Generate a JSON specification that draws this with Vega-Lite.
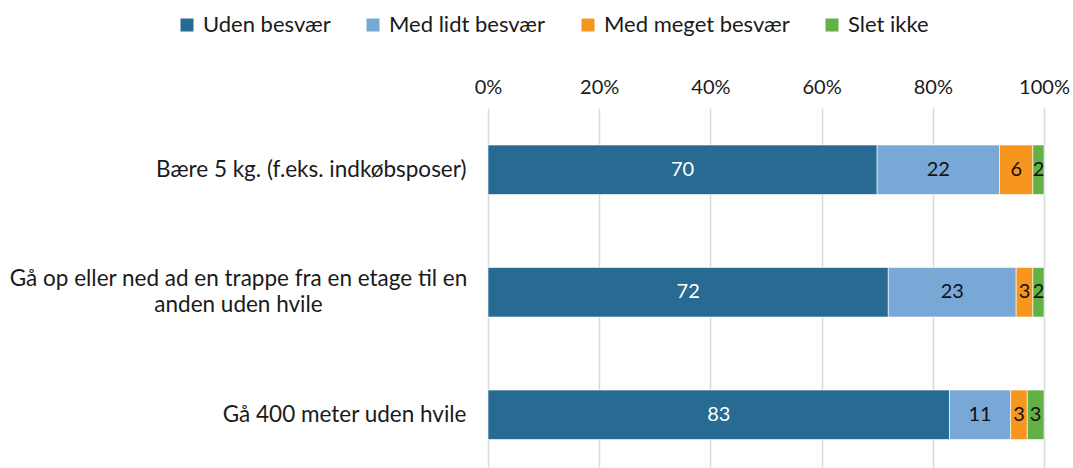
{
  "$schema": "https://vega.github.io/schema/vega-lite/v6.json",
  "width": 556,
  "height": 359,
  "autosize": {"type": "none"},
  "padding": {"left": 488, "top": 108, "right": 29, "bottom": 1},
  "background": "white",
  "config": {
    "font": "Lato",
    "view": {"stroke": null},
    "axis": {"labelFont": "Lato", "labelFontSize": 20, "labelColor": "#1a1a1a"},
    "legend": {"labelFont": "Lato", "labelFontSize": 22, "labelColor": "#1a1a1a"}
  },
  "data": {
    "values": [
      {"item": "Bære 5 kg. (f.eks. indkøbsposer)", "iorder": 1, "answer": "Uden besvær", "aorder": 1, "pct": 70},
      {"item": "Bære 5 kg. (f.eks. indkøbsposer)", "iorder": 1, "answer": "Med lidt besvær", "aorder": 2, "pct": 22},
      {"item": "Bære 5 kg. (f.eks. indkøbsposer)", "iorder": 1, "answer": "Med meget besvær", "aorder": 3, "pct": 6},
      {"item": "Bære 5 kg. (f.eks. indkøbsposer)", "iorder": 1, "answer": "Slet ikke", "aorder": 4, "pct": 2},
      {"item": "Gå op eller ned ad en trappe fra en etage til en anden uden hvile", "iorder": 2, "answer": "Uden besvær", "aorder": 1, "pct": 72},
      {"item": "Gå op eller ned ad en trappe fra en etage til en anden uden hvile", "iorder": 2, "answer": "Med lidt besvær", "aorder": 2, "pct": 23},
      {"item": "Gå op eller ned ad en trappe fra en etage til en anden uden hvile", "iorder": 2, "answer": "Med meget besvær", "aorder": 3, "pct": 3},
      {"item": "Gå op eller ned ad en trappe fra en etage til en anden uden hvile", "iorder": 2, "answer": "Slet ikke", "aorder": 4, "pct": 2},
      {"item": "Gå 400 meter uden hvile", "iorder": 3, "answer": "Uden besvær", "aorder": 1, "pct": 83},
      {"item": "Gå 400 meter uden hvile", "iorder": 3, "answer": "Med lidt besvær", "aorder": 2, "pct": 11},
      {"item": "Gå 400 meter uden hvile", "iorder": 3, "answer": "Med meget besvær", "aorder": 3, "pct": 3},
      {"item": "Gå 400 meter uden hvile", "iorder": 3, "answer": "Slet ikke", "aorder": 4, "pct": 3}
    ]
  },
  "transform": [
    {"stack": "pct", "groupby": ["item"], "sort": [{"field": "aorder"}], "as": ["x0", "x1"]},
    {"calculate": "(datum.x0 + datum.x1) / 2", "as": "xmid"}
  ],
  "resolve": {"axis": {"y": "independent"}},
  "layer": [
    {
      "mark": {"type": "bar", "stroke": "white", "strokeWidth": 0.6},
      "encoding": {
        "y": {
          "field": "item",
          "type": "nominal",
          "sort": {"field": "iorder"},
          "scale": {"paddingInner": 0.596, "paddingOuter": 0.263, "align": 0.574},
          "axis": {
            "orient": "left",
            "title": null,
            "domain": false,
            "ticks": false,
            "labelPadding": 22,
            "labelLimit": 600,
            "labelFontSize": 22.5,
            "labelAlign": "right",
            "labelExpr": "datum.label == 'Gå op eller ned ad en trappe fra en etage til en anden uden hvile' ? '' : datum.label"
          }
        },
        "x": {
          "field": "x0",
          "type": "quantitative",
          "scale": {"domain": [0, 100], "nice": false},
          "axis": {
            "orient": "top",
            "title": null,
            "values": [0, 20, 40, 60, 80, 100],
            "labelExpr": "datum.value + '%'",
            "labelFlush": false,
            "domain": false,
            "ticks": false,
            "labelPadding": 11,
            "grid": true,
            "gridColor": "#D9D9D9",
            "gridWidth": 1.5
          }
        },
        "x2": {"field": "x1"},
        "color": {
          "field": "answer",
          "type": "nominal",
          "sort": ["Uden besvær", "Med lidt besvær", "Med meget besvær", "Slet ikke"],
          "scale": {
            "domain": ["Uden besvær", "Med lidt besvær", "Med meget besvær", "Slet ikke"],
            "range": ["#276A92", "#78A9D6", "#F7961E", "#62B146"]
          },
          "legend": {
            "title": null,
            "orient": "none",
            "direction": "horizontal",
            "columns": 4,
            "legendX": -312,
            "legendY": -94,
            "symbolType": "square",
            "symbolSize": 169,
            "symbolStrokeWidth": 0,
            "labelOffset": 5,
            "labelLimit": 300,
            "columnPadding": 31
          }
        }
      }
    },
    {
      "mark": {"type": "text", "fontSize": 20, "font": "Lato"},
      "encoding": {
        "y": {
          "field": "item",
          "type": "nominal",
          "sort": {"field": "iorder"},
          "axis": {
            "orient": "left",
            "title": null,
            "domain": false,
            "ticks": false,
            "grid": false,
            "labelPadding": 250,
            "labelLimit": 600,
            "labelFontSize": 22.5,
            "labelLineHeight": 26,
            "labelAlign": "center",
            "labelOffset": -13,
            "labelExpr": "datum.label == 'Gå op eller ned ad en trappe fra en etage til en anden uden hvile' ? ['Gå op eller ned ad en trappe fra en etage til en', 'anden uden hvile'] : ''"
          }
        },
        "x": {"field": "xmid", "type": "quantitative"},
        "text": {"field": "pct", "type": "quantitative"},
        "color": {
          "condition": {"test": "datum.answer == 'Uden besvær'", "value": "white"},
          "value": "#111111"
        }
      }
    }
  ]
}
